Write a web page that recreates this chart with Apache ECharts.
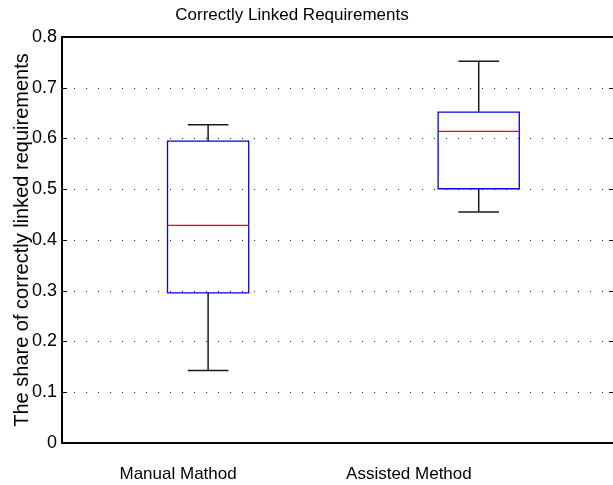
<!DOCTYPE html>
<html>
<head>
<meta charset="utf-8">
<script src="https://cdn.jsdelivr.net/npm/echarts@6/dist/echarts.min.js"></script>
<style>
html,body{margin:0;padding:0;background:#fff;}
#chart{width:613px;height:485px;}
</style>
</head>
<body>
<div id="chart"></div>
<script>
// Data
var categories = ['Manual Mathod', 'Assisted Method'];
var positions = [1, 2];
var lowerWhisker = [0.143, 0.455];
var q1 = [0.296, 0.501];
var median = [0.429, 0.614];
var q3 = [0.595, 0.652];
var upperWhisker = [0.627, 0.752];
var yTicks = [0, 0.1, 0.2, 0.3, 0.4, 0.5, 0.6, 0.7, 0.8];

var FONT = 'Liberation Sans, Arial, Helvetica, sans-serif';

var boxData = positions.map(function (p, i) {
  return [p, lowerWhisker[i], q1[i], median[i], q3[i], upperWhisker[i]];
});

// label anchor positions (MATLAB places them slightly left of the boxes)
var labelAt = [0.889, 1.742];

var chart = echarts.init(document.getElementById('chart'), null, {renderer: 'canvas'});

function renderBox(params, api) {
  var x = api.value(0);
  var half = 0.15, cap = 0.075;
  var pLow = api.coord([x, api.value(1)]);
  var pQ1 = api.coord([x, api.value(2)]);
  var pMed = api.coord([x, api.value(3)]);
  var pQ3 = api.coord([x, api.value(4)]);
  var pHigh = api.coord([x, api.value(5)]);
  var xl = api.coord([x - half, 0])[0];
  var xr = api.coord([x + half, 0])[0];
  var cl = api.coord([x - cap, 0])[0];
  var cr = api.coord([x + cap, 0])[0];
  var black = {stroke: '#1a1a1a', lineWidth: 1.5};
  return {
    type: 'group',
    children: [
      {type: 'line', shape: {x1: pHigh[0], y1: pHigh[1], x2: pQ3[0], y2: pQ3[1]}, style: black},
      {type: 'line', shape: {x1: pQ1[0], y1: pQ1[1], x2: pLow[0], y2: pLow[1]}, style: black},
      {type: 'line', shape: {x1: cl, y1: pHigh[1], x2: cr, y2: pHigh[1]}, style: black},
      {type: 'line', shape: {x1: cl, y1: pLow[1], x2: cr, y2: pLow[1]}, style: black},
      {type: 'rect', shape: {x: xl, y: pQ3[1], width: xr - xl, height: pQ1[1] - pQ3[1]},
        style: {fill: 'rgba(0,0,0,0)', stroke: '#0000ff', lineWidth: 1.3}},
      {type: 'line', shape: {x1: xl, y1: pMed[1], x2: xr, y2: pMed[1]},
        style: {stroke: '#ff0000', lineWidth: 1.3}}
    ]
  };
}

var option = {
  backgroundColor: '#ffffff',
  animation: false,
  title: {
    text: 'Correctly Linked Requirements',
    left: 287,
    textAlign: 'center',
    top: 2,
    textStyle: {fontFamily: FONT, fontSize: 17, fontWeight: 'normal', color: '#000'}
  },
  grid: {left: 62, right: -1, top: 37, bottom: 42, containLabel: false, outerBoundsMode: 'none'},
  xAxis: [{
    type: 'value',
    min: 0.46,
    max: 2.5,
    position: 'bottom',
    axisLine: {show: true, onZero: false, lineStyle: {color: '#000', width: 2}},
    axisTick: {show: false},
    splitLine: {show: false},
    axisLabel: {
      customValues: labelAt,
      margin: 23,
      fontFamily: FONT, fontSize: 17, color: '#000',
      formatter: function (v) {
        var i = labelAt.indexOf(v);
        return i >= 0 ? categories[i] : '';
      }
    }
  }, {
    type: 'value',
    min: 0.46,
    max: 2.5,
    position: 'top',
    axisLine: {show: true, onZero: false, lineStyle: {color: '#000', width: 2}},
    axisTick: {show: false},
    axisLabel: {show: false},
    splitLine: {show: false}
  }],
  yAxis: [{
    type: 'value',
    min: 0,
    max: 0.8,
    interval: 0.1,
    position: 'left',
    name: 'The share of correctly linked requirements',
    nameLocation: 'middle',
    nameGap: 30,
    nameMoveOverlap: false,
    nameTextStyle: {fontFamily: FONT, fontSize: 20, color: '#000'},
    axisLine: {show: true, lineStyle: {color: '#000', width: 2}},
    axisTick: {show: true, inside: true, length: 5, lineStyle: {color: '#000', width: 1}},
    axisLabel: {
      margin: 5,
      fontFamily: FONT, fontSize: 18, color: '#000',
      customValues: yTicks,
      formatter: function (v) { return String(+v.toFixed(1)); }
    },
    splitLine: {show: true, lineStyle: {color: '#222', width: 1, type: [1, 11]}}
  }, {
    type: 'value',
    min: 0,
    max: 0.8,
    interval: 0.1,
    position: 'right',
    axisLine: {show: true, lineStyle: {color: '#000', width: 2}},
    axisTick: {show: true, inside: true, length: 5, lineStyle: {color: '#000', width: 1}},
    axisLabel: {show: false},
    splitLine: {show: false}
  }],
  series: [{
    type: 'custom',
    xAxisIndex: 0,
    yAxisIndex: 0,
    renderItem: renderBox,
    encode: {x: 0, y: [1, 2, 3, 4, 5]},
    data: boxData,
    z: 10
  }]
};

chart.setOption(option);
</script>
</body>
</html>
